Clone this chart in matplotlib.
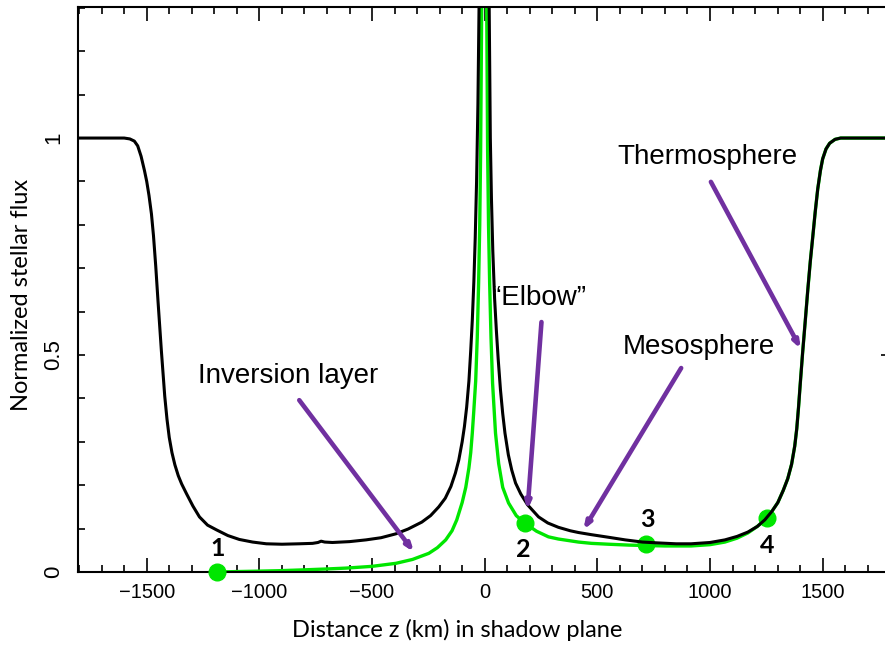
import numpy as np
import matplotlib
matplotlib.use("Agg")
import matplotlib.pyplot as plt

black_z = [-1805, -1600, -1575, -1555, -1540, -1525, -1510, -1500, -1490, -1479, -1470,
           -1460, -1450, -1435, -1420, -1410, -1400, -1388, -1375, -1360, -1345, -1323,
           -1295, -1266, -1230, -1190, -1140, -1089, -1030, -969, -900, -823, -764, -740,
           -726, -710, -676, -600, -527, -460, -394, -340, -279, -240, -204, -175, -150,
           -130, -115, -100, -90, -80, -70, -62, -55, -48, -42, -36, -30, -24, -15, 0,
           12, 20, 25, 30, 36, 44, 52, 60, 70, 80, 90, 105, 120, 137, 160, 190, 239, 280,
           327, 380, 416, 474, 550, 624, 700, 770, 850, 916, 1000, 1066, 1120, 1168, 1210,
           1243, 1275, 1301, 1325, 1345, 1362, 1376, 1385, 1393, 1400, 1411, 1423, 1434,
           1445, 1456, 1467, 1478, 1490, 1500, 1515, 1531, 1555, 1580, 1620, 1790]
black_flux = [1.0, 1.0, 0.998, 0.993, 0.982, 0.958, 0.925, 0.9, 0.868, 0.825, 0.775,
              0.705, 0.625, 0.51, 0.405, 0.352, 0.31, 0.275, 0.247, 0.222, 0.203, 0.18,
              0.152, 0.127, 0.108, 0.097, 0.084, 0.075, 0.069, 0.065, 0.064, 0.065, 0.066,
              0.068, 0.071, 0.069, 0.068, 0.070, 0.074, 0.079, 0.088, 0.099, 0.115, 0.13,
              0.150, 0.170, 0.197, 0.228, 0.258, 0.30, 0.335, 0.38, 0.44, 0.51, 0.58, 0.67,
              0.77, 0.90, 1.08, 1.35, 2.0, 3.0, 2.0, 1.3, 1.0, 0.86, 0.74, 0.63, 0.555, 0.49,
              0.42, 0.365, 0.32, 0.27, 0.235, 0.205, 0.18, 0.155, 0.127, 0.113, 0.103,
              0.095, 0.091, 0.086, 0.080, 0.074, 0.069, 0.067, 0.065, 0.065, 0.068, 0.074,
              0.082, 0.092, 0.105, 0.12, 0.14, 0.16, 0.188, 0.215, 0.248, 0.29, 0.33, 0.38,
              0.43, 0.505, 0.58, 0.65, 0.715, 0.772, 0.83, 0.882, 0.925, 0.952, 0.975,
              0.988, 0.997, 1.0, 1.0, 1.0]

green_z = [-1186, -1100, -1000, -912, -800, -700, -615, -500, -394, -320, -248, -210,
           -173, -145, -124, -100, -84, -70, -62, -55, -49, -40, -33, -27, -22, -18, -12,
           0, 6, 9, 13, 17, 22, 28, 35, 48, 62, 80, 106, 140, 177, 230, 283, 327, 416,
           474, 550, 640, 717, 800, 916, 1000, 1066, 1120, 1168, 1210, 1243, 1275, 1301,
           1325, 1345, 1362, 1376, 1385, 1393, 1400, 1411, 1423, 1434, 1445, 1456, 1467,
           1478, 1490, 1500, 1515, 1531, 1555, 1580, 1620, 1790]
green_flux = [0.0, 0.001, 0.002, 0.003, 0.005, 0.007, 0.009, 0.013, 0.020, 0.029, 0.043,
              0.056, 0.074, 0.095, 0.12, 0.16, 0.195, 0.24, 0.275, 0.32, 0.366, 0.44,
              0.54, 0.666, 0.8, 0.97, 1.4, 3.0, 1.8, 1.3, 0.97, 0.8, 0.666, 0.54, 0.435,
              0.32, 0.25, 0.195, 0.159, 0.13, 0.113, 0.094, 0.081, 0.076, 0.069, 0.066,
              0.064, 0.062, 0.061, 0.060, 0.060, 0.063, 0.069, 0.078, 0.090, 0.105, 0.12,
              0.14, 0.16, 0.188, 0.215, 0.248, 0.29, 0.33, 0.38, 0.43, 0.505, 0.58, 0.65,
              0.715, 0.772, 0.83, 0.882, 0.925, 0.952, 0.975, 0.988, 0.997, 1.0, 1.0, 1.0]

point_z = [-1186, 177, 717, 1252]
point_flux = [0.0, 0.113, 0.064, 0.124]
point_labels = ["1", "2", "3", "4"]
label_z = [-1186, 173, 721, 1252]
label_flux = [0.055, 0.053, 0.122, 0.062]

notes = ["Inversion layer", "\u201cElbow\u201d", "Mesosphere", "Thermosphere"]
note_z = [-872, 239, 951, 987]
note_flux = [0.452, 0.631, 0.518, 0.956]
arrow_tail = [(-823, 0.396), (252, 0.576), (872, 0.47), (1004, 0.899)]
arrow_head = [(-314, 0.046), (190, 0.143), (438, 0.097), (1403, 0.514)]

green = "#00e600"
purple = "#7030a0"

fig = plt.figure(figsize=(8.85, 6.47), dpi=100)
ax = fig.add_axes([78 / 885, 75 / 647, 810 / 885, 565 / 647])

ax.plot(green_z, green_flux, color=green, lw=2.4, zorder=2)
ax.plot(point_z, point_flux, "o", color=green, ms=12, zorder=3, clip_on=False)
ax.plot(black_z, black_flux, color="black", lw=2.2, zorder=4)

for t, x, y in zip(point_labels, label_z, label_flux):
    ax.text(x, y, t, ha="center", va="center", fontsize=18, fontweight="bold",
            family="Lato", zorder=5)

for t, x, y in zip(notes, note_z, note_flux):
    ax.text(x, y, t, ha="center", va="center", fontsize=20,
            family="Liberation Sans", zorder=5)

for tail, head in zip(arrow_tail, arrow_head):
    ax.annotate("", xy=head, xytext=tail, zorder=6,
                arrowprops=dict(arrowstyle="-|>,head_length=0.4,head_width=0.15",
                                color=purple, lw=3.3, mutation_scale=10,
                                shrinkA=0, shrinkB=0))

ax.set_xlim(-1805, 1790)
ax.set_ylim(0, 1.302)

ax.set_xticks([-1500, -1000, -500, 0, 500, 1000, 1500])
ax.set_xticklabels(["\u22121500", "\u22121000", "\u2212500", "0", "500", "1000", "1500"])
ax.set_xticks(np.arange(-1800, 1800, 100), minor=True)
ax.set_yticks([0, 0.5, 1])
ax.set_yticklabels(["0", "0.5", "1"], rotation=90, va="center")
ax.set_yticks(np.arange(0, 1.31, 0.1), minor=True)

ax.tick_params(axis="x", which="major", direction="in", length=10, width=1.2,
               top=True, labelsize=14.5, pad=8)
ax.tick_params(axis="x", which="minor", direction="in", length=5, width=1.2, top=True)
ax.tick_params(axis="y", which="major", direction="in", length=5, width=1.2,
               right=True, labelsize=16, pad=10)
ax.tick_params(axis="y", which="minor", direction="in", length=5, width=1.2, right=False)
for lab in ax.get_xticklabels() + ax.get_yticklabels():
    lab.set_family("Liberation Sans")

for s in ax.spines.values():
    s.set_linewidth(1.5)

fig.text(457 / 885, 1 - 630 / 647, "Distance z (km) in shadow plane", ha="center",
         va="center", fontsize=17, family="Lato")
fig.text(22 / 885, 1 - 295 / 647, "Normalized stellar flux", ha="center", va="center",
         rotation=90, fontsize=17, family="Lato")

fig.savefig("out.png", dpi=100)
